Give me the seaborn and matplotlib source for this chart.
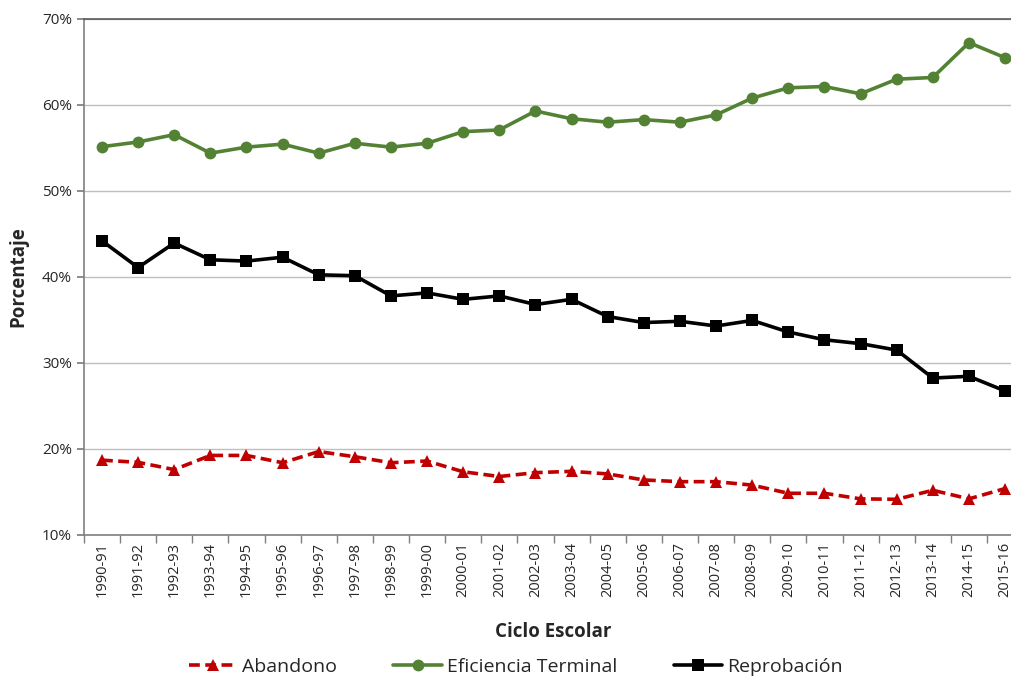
import matplotlib
matplotlib.use("Agg")
import matplotlib.pyplot as plt
import seaborn as sns
import numpy as np
from matplotlib.ticker import FuncFormatter

# Ciclos escolares
ciclos = ["1990-91", "1991-92", "1992-93", "1993-94", "1994-95", "1995-96",
          "1996-97", "1997-98", "1998-99", "1999-00", "2000-01", "2001-02",
          "2002-03", "2003-04", "2004-05", "2005-06", "2006-07", "2007-08",
          "2008-09", "2009-10", "2010-11", "2011-12", "2012-13", "2013-14",
          "2014-15", "2015-16"]

# Valores en porcentaje
abandono = [18.7, 18.45, 17.6, 19.25, 19.25, 18.4, 19.7, 19.1, 18.4, 18.6,
            17.35, 16.8, 17.25, 17.4, 17.1, 16.4, 16.2, 16.2, 15.8, 14.85,
            14.85, 14.2, 14.15, 15.2, 14.2, 15.4]
eficiencia = [55.15, 55.7, 56.55, 54.4, 55.1, 55.45, 54.4, 55.55, 55.1, 55.55,
              56.9, 57.1, 59.3, 58.4, 58.0, 58.3, 58.0, 58.85, 60.8, 62.0,
              62.15, 61.3, 63.0, 63.2, 67.25, 65.5]
reprobacion = [44.2, 41.1, 43.95, 42.0, 41.85, 42.3, 40.25, 40.15, 37.8, 38.15,
               37.4, 37.8, 36.8, 37.4, 35.4, 34.7, 34.85, 34.3, 34.95, 33.6,
               32.7, 32.25, 31.5, 28.25, 28.45, 26.75]

sns.set_theme(style="white")
plt.rcParams['font.family'] = ['Open Sans', 'DejaVu Sans']

fig = plt.figure(figsize=(10.11, 6.76), dpi=100)
ax = fig.add_axes([0.083, 0.2086, 0.929, 0.7633])

x = np.arange(len(ciclos))

sns.lineplot(x=x, y=abandono, ax=ax, color="#C00000", linewidth=2.6,
             linestyle=(0, (3, 1.5)), marker="^", markersize=9,
             markeredgewidth=0, label="Abandono")
sns.lineplot(x=x, y=eficiencia, ax=ax, color="#548235", linewidth=2.6,
             marker="o", markersize=8.5, markeredgewidth=0,
             label="Eficiencia Terminal")
sns.lineplot(x=x, y=reprobacion, ax=ax, color="black", linewidth=2.6,
             marker="s", markersize=8.5, markeredgewidth=0, label="Reprobación")

ax.set_xlim(-0.5, len(ciclos) - 0.5)
ax.set_ylim(10, 70)
ax.set_yticks(np.arange(10, 71, 10))
ax.yaxis.set_major_formatter(FuncFormatter(lambda v, p: f"{int(v)}%"))
ax.yaxis.grid(True, color="#BFBFBF", linewidth=1)
ax.set_axisbelow(True)

ax.set_xticks(x)
ax.set_xticklabels(ciclos, rotation=90, fontsize=10.5, color="#262626")
ax.set_xticks(np.arange(-0.5, len(ciclos), 1), minor=True)
ax.tick_params(axis="x", which="major", length=0, pad=5)
ax.tick_params(axis="x", which="minor", length=6, color="#7F7F7F", width=1,
               direction="out", bottom=True)
ax.tick_params(axis="y", labelsize=11, labelcolor="#262626", length=5,
               color="#7F7F7F", direction="out", left=True)

for side in ["left", "bottom"]:
    ax.spines[side].set_color("#7F7F7F")
    ax.spines[side].set_linewidth(1.2)
ax.spines["top"].set_color("#595959")
ax.spines["top"].set_linewidth(1.2)
ax.spines["right"].set_visible(False)

ax.set_ylabel("Porcentaje", fontsize=13.5, fontweight="bold", labelpad=10)
ax.set_xlabel("Ciclo Escolar", fontsize=13.5, fontweight="bold", labelpad=18)

ax.legend(loc="center", bbox_to_anchor=(0.51, 0.013),
          bbox_transform=fig.transFigure, ncol=3, frameon=False, fontsize=14,
          handlelength=2.5, columnspacing=2.9, handletextpad=0.25,
          borderaxespad=0, borderpad=0)

fig.savefig("out.png", dpi=100)
